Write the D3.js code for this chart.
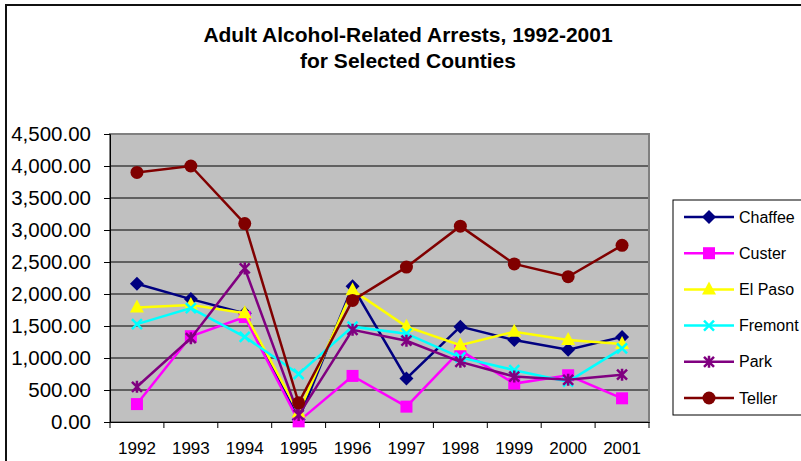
<!DOCTYPE html>
<html>
<head>
<meta charset="utf-8">
<script src="https://cdn.jsdelivr.net/npm/d3@7"></script>
<style>
  body { margin: 0; background: #fff; }
  svg { display: block; font-family: Arial, "Liberation Sans", sans-serif; }
</style>
</head>
<body>
<svg id="chart" width="801" height="461"></svg>
<script>
// Adult alcohol-related arrests by county

const years = ["1992", "1993", "1994", "1995", "1996", "1997", "1998", "1999", "2000", "2001"];
const yTicks = [0, 500, 1000, 1500, 2000, 2500, 3000, 3500, 4000, 4500];

const chaffee = [2160, 1920, 1700, 40, 2120, 680, 1490, 1280, 1130, 1330];
const custer  = [280, 1340, 1640, 10, 720, 240, 1120, 600, 730, 370];
const elPaso  = [1790, 1830, 1700, 150, 2060, 1490, 1200, 1410, 1280, 1220];
const fremont = [1530, 1780, 1330, 750, 1490, 1380, 1010, 810, 630, 1150];
const park    = [550, 1310, 2400, 110, 1440, 1270, 940, 710, 660, 740];
const teller  = [3900, 4000, 3100, 300, 1900, 2420, 3060, 2470, 2270, 2760];

const series = [
  { name: "Chaffee", values: chaffee, color: "#000080", marker: "diamond" },
  { name: "Custer",  values: custer,  color: "#FF00FF", marker: "square" },
  { name: "El Paso", values: elPaso,  color: "#FFFF00", marker: "triangle" },
  { name: "Fremont", values: fremont, color: "#00FFFF", marker: "x" },
  { name: "Park",    values: park,    color: "#800080", marker: "star" },
  { name: "Teller",  values: teller,  color: "#800000", marker: "circle" }
];

const svg = d3.select("#chart");
const plot = { left: 110, right: 649, top: 134, bottom: 422 };

// outer chart frame (cropped at right and bottom)
svg.append("path")
  .attr("d", "M6,470 V5 H810")
  .attr("fill", "none")
  .attr("stroke", "#111")
  .attr("stroke-width", 2);

// title
const title = svg.append("text")
  .attr("text-anchor", "middle")
  .attr("font-weight", "bold")
  .attr("font-size", 21);
title.append("tspan").attr("x", 408).attr("y", 42).text("Adult Alcohol-Related Arrests, 1992-2001");
title.append("tspan").attr("x", 408).attr("y", 68).text("for Selected Counties");

const x = d3.scaleBand().domain(years).range([plot.left, plot.right]);
const y = d3.scaleLinear().domain([0, 4500]).range([plot.bottom, plot.top]);

// plot area
svg.append("rect")
  .attr("x", plot.left).attr("y", plot.top)
  .attr("width", plot.right - plot.left).attr("height", plot.bottom - plot.top)
  .attr("fill", "#C0C0C0");

// gridlines
svg.append("g")
  .selectAll("line")
  .data(yTicks.slice(1))
  .join("line")
  .attr("x1", plot.left).attr("x2", plot.right)
  .attr("y1", d => y(d)).attr("y2", d => y(d))
  .attr("stroke", "#000").attr("stroke-width", 1);

svg.append("rect")
  .attr("x", plot.left).attr("y", plot.top)
  .attr("width", plot.right - plot.left).attr("height", plot.bottom - plot.top)
  .attr("fill", "none")
  .attr("stroke", "#808080").attr("stroke-width", 2);

// y axis
const yAxis = svg.append("g")
  .attr("transform", `translate(${plot.left},0)`)
  .call(d3.axisLeft(y).tickValues(yTicks).tickSize(6).tickPadding(13)
    .tickFormat(d3.format(",.2f")));
yAxis.select(".domain").attr("stroke", "#000");
yAxis.selectAll("line").attr("stroke", "#000");
yAxis.selectAll("text").attr("font-size", 20.5).attr("fill", "#000").attr("font-family", "Arial, 'Liberation Sans', sans-serif");

// x axis
const xAxis = svg.append("g")
  .attr("transform", `translate(0,${plot.bottom})`)
  .call(d3.axisBottom(x).tickSize(0).tickPadding(20));
xAxis.select(".domain").attr("stroke", "#000");
xAxis.selectAll("text").attr("font-size", 17).attr("fill", "#000").attr("font-family", "Arial, 'Liberation Sans', sans-serif");
svg.append("g")
  .selectAll("line")
  .data(d3.range(years.length + 1))
  .join("line")
  .attr("x1", i => plot.left + i * x.step()).attr("x2", i => plot.left + i * x.step())
  .attr("y1", plot.bottom).attr("y2", plot.bottom + 6)
  .attr("stroke", "#000");

const cx = d => x(d) + x.bandwidth() / 2;

function drawMarker(g, type, color) {
  if (type === "diamond") {
    g.append("path").attr("d", "M0,-7 L7,0 L0,7 L-7,0 Z").attr("fill", color);
  } else if (type === "square") {
    g.append("rect").attr("x", -6).attr("y", -6).attr("width", 12).attr("height", 12).attr("fill", color);
  } else if (type === "triangle") {
    g.append("path").attr("d", "M0,-8 L7,5 L-7,5 Z").attr("fill", color);
  } else if (type === "x") {
    g.append("path").attr("d", "M-5,-5 L5,5 M-5,5 L5,-5").attr("stroke", color).attr("stroke-width", 2.5);
  } else if (type === "star") {
    g.append("path").attr("d", "M-5,-5 L5,5 M-5,5 L5,-5 M0,-6 V6").attr("stroke", color).attr("stroke-width", 2.5);
  } else if (type === "circle") {
    g.append("circle").attr("r", 6.5).attr("fill", color);
  }
}

const line = d3.line().x((d, i) => cx(years[i])).y(d => y(d));

series.forEach(s => {
  const g = svg.append("g");
  g.append("path")
    .datum(s.values)
    .attr("d", line)
    .attr("fill", "none")
    .attr("stroke", s.color)
    .attr("stroke-width", 2.5);
  s.values.forEach((v, i) => {
    const m = g.append("g").attr("transform", `translate(${cx(years[i])},${y(v)})`);
    drawMarker(m, s.marker, s.color);
  });
});

// legend
const legend = svg.append("g");
legend.append("rect")
  .attr("x", 673).attr("y", 200).attr("width", 140).attr("height", 215)
  .attr("fill", "#fff").attr("stroke", "#000").attr("stroke-width", 1);

series.forEach((s, i) => {
  const ly = 217 + i * 36.2;
  const item = legend.append("g");
  item.append("line")
    .attr("x1", 684).attr("x2", 734).attr("y1", ly).attr("y2", ly)
    .attr("stroke", s.color).attr("stroke-width", 2.5);
  const m = item.append("g").attr("transform", `translate(709,${ly})`);
  drawMarker(m, s.marker, s.color);
  item.append("text")
    .attr("x", 739).attr("y", ly + 5.5)
    .attr("font-size", 16)
    .text(s.name);
});
</script>
</body>
</html>
